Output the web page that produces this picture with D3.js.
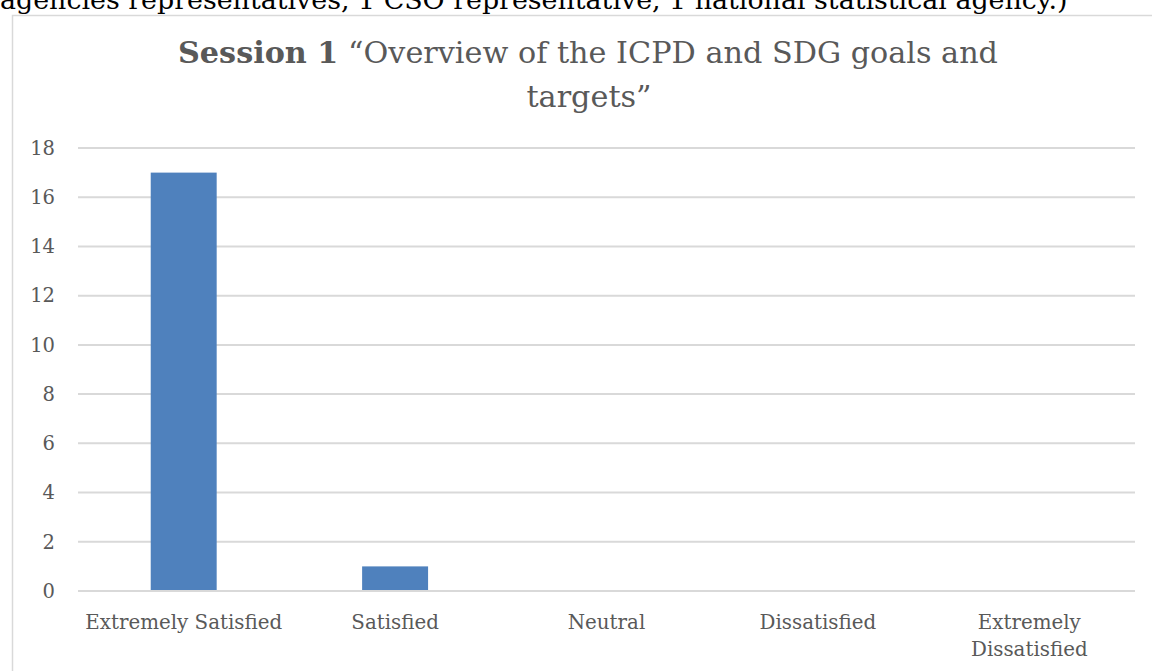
<!DOCTYPE html>
<html>
<head>
<meta charset="utf-8">
<script src="https://cdn.jsdelivr.net/npm/d3@7"></script>
<style>
  html, body { margin: 0; padding: 0; background: #fff; overflow: hidden; }
  svg { display: block; }
</style>
</head>
<body>
<svg id="chart" width="1152" height="671"></svg>
<script>
// Survey responses for Session 1
const categories = ["Extremely Satisfied", "Satisfied", "Neutral", "Dissatisfied", "Extremely Dissatisfied"];
const counts = [17, 1, 0, 0, 0];
const yTicks = [0, 2, 4, 6, 8, 10, 12, 14, 16, 18];
const titleBold = "Session 1";
const titleRest = " \u201COverview of the ICPD and SDG goals and";
const titleLine2 = "targets\u201D";
const leadText = "agencies representatives, 1 CSO representative, 1 national statistical agency.)";

const W = 1152, H = 671;
const serif = "'DejaVu Serif', 'Liberation Serif', serif";
const grey = "#595959";

const svg = d3.select("#chart");

// Scale a text node's font size so that it spans the given width
function fitWidth(sel, target) {
  const node = sel.node();
  const fs = parseFloat(sel.attr("font-size"));
  const w = node.getComputedTextLength();
  const nfs = fs * target / w;
  sel.attr("font-size", nfs.toFixed(2));
  return nfs;
}

// Running text line from the surrounding document
const lead = svg.append("text")
  .attr("x", 0).attr("y", 9)
  .attr("font-family", serif).attr("font-size", 22)
  .attr("fill", "#000")
  .text(leadText);
fitWidth(lead, 1068);

// Chart frame
svg.append("rect")
  .attr("x", 12.5).attr("y", 15.5)
  .attr("width", W).attr("height", H)
  .attr("fill", "none").attr("stroke", "#d9d9d9").attr("stroke-width", 1.5);

// Title
const t1 = svg.append("text")
  .attr("x", 588).attr("y", 63)
  .attr("text-anchor", "middle")
  .attr("font-family", serif).attr("font-size", 34).attr("fill", grey);
t1.append("tspan").attr("font-weight", "bold").text(titleBold);
t1.append("tspan").text(titleRest);
const t1fs = fitWidth(t1, 820);

svg.append("text")
  .attr("x", 589).attr("y", 107)
  .attr("text-anchor", "middle")
  .attr("font-family", serif).attr("font-size", t1fs.toFixed(2)).attr("fill", grey)
  .text(titleLine2);

// Plot area
const plot = { left: 78, right: 1135, top: 148, bottom: 591 };

const x = d3.scaleBand()
  .domain(categories)
  .range([plot.left, plot.right])
  .paddingInner(0.688).paddingOuter(0.344);

const y = d3.scaleLinear()
  .domain([0, 18])
  .range([plot.bottom, plot.top]);

// Horizontal gridlines
svg.append("g")
  .selectAll("line")
  .data(yTicks)
  .join("line")
  .attr("x1", plot.left).attr("x2", plot.right)
  .attr("y1", d => y(d)).attr("y2", d => y(d))
  .attr("stroke", "#d9d9d9").attr("stroke-width", 2);

// Y axis labels
const yAxis = svg.append("g")
  .attr("transform", `translate(${plot.left},0)`)
  .call(d3.axisLeft(y).tickValues(yTicks).tickSize(0).tickPadding(23));
yAxis.select(".domain").remove();
yAxis.selectAll("text")
  .attr("font-family", serif).attr("font-size", 19.5).attr("fill", grey);

// Bars
svg.append("g")
  .selectAll("rect")
  .data(categories.map((c, i) => ({ c, v: counts[i] })))
  .join("rect")
  .attr("x", d => x(d.c))
  .attr("width", x.bandwidth())
  .attr("y", d => y(d.v))
  .attr("height", d => y(0) - y(d.v))
  .attr("fill", "#4f81bd");

// Baseline drawn over the bars
svg.append("line")
  .attr("x1", plot.left).attr("x2", plot.right)
  .attr("y1", y(0)).attr("y2", y(0))
  .attr("stroke", "#d9d9d9").attr("stroke-width", 2);

// Category labels, wrapping the long one onto two lines
const xAxis = svg.append("g")
  .attr("transform", `translate(0,${plot.bottom})`)
  .call(d3.axisBottom(x).tickSize(0).tickPadding(0));
xAxis.select(".domain").remove();
const xLabels = xAxis.selectAll("text")
  .attr("font-family", serif).attr("font-size", 19).attr("fill", grey)
  .attr("dy", null).attr("y", 38);
const xfs = fitWidth(xLabels.filter(d => d === "Extremely Satisfied"), 197);
xLabels.attr("font-size", xfs.toFixed(2))
  .each(function (d) {
    const el = d3.select(this);
    if (d === "Extremely Dissatisfied") {
      el.text(null);
      el.append("tspan").attr("x", 0).attr("y", 38).text("Extremely");
      el.append("tspan").attr("x", 0).attr("y", 65).text("Dissatisfied");
    }
  });
</script>
</body>
</html>
